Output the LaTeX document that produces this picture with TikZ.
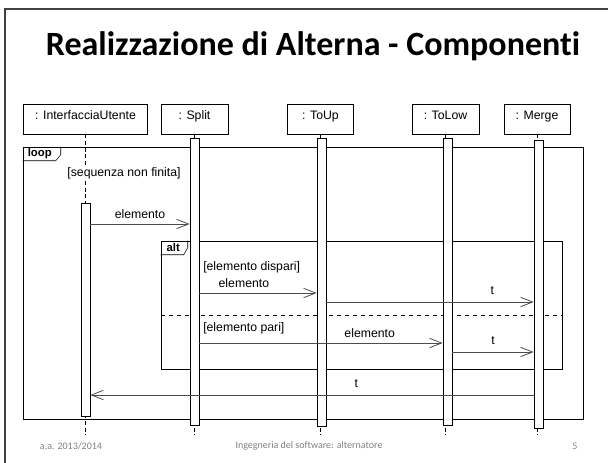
\documentclass[tikz,border=0pt]{standalone}
\usepackage{fontspec}
\setmainfont{Liberation Sans}
\newfontfamily\slidefont[Ligatures=NoCommon]{Carlito}
\usetikzlibrary{arrows.meta}

\begin{document}
\begin{tikzpicture}[x=0.75pt, y=-0.75pt,
    head/.style ={draw, minimum height=22.5pt, inner sep=0pt},
    bar/.style ={draw, fill=white, minimum width=6.75pt, inner sep=0pt},
    lifeline/.style ={dash pattern=on 3pt off 2pt},
    fragment/.style ={draw, minimum width=#1, inner sep=0pt},
    msg/.style ={black!70, line width=0.6pt, -{Straight Barb[length=9pt,width=7pt]}},
    txt/.style ={font=\fontsize{9.2}{11}\selectfont, inner sep=0pt},
    tab/.style ={font=\fontsize{8.5}{10}\selectfont\bfseries, inner sep=0pt},
    foot/.style ={font=\slidefont\fontsize{7.5}{9}\selectfont, text=black!50, inner sep=0pt}]
   \useasboundingbox (0,0) rectangle (608,462);
   \draw[line width=1.6pt, black!75] (4.7,470) -- (4.7,9) -- (615,9);
   \node[font=\slidefont\bfseries\fontsize{25.5}{30}\selectfont, anchor=base] (title) at (313,55) {Realizzazione di Alterna - Componenti};

   \node[head, minimum width=93pt] (iu) at (85.5,119) {};
   \node[head, minimum width=50.25pt] (split) at (194.5,119) {};
   \node[head, minimum width=49.5pt] (toup) at (320.5,119) {};
   \node[head, minimum width=50.25pt] (tolow) at (445.5,119) {};
   \node[head, minimum width=49.5pt] (merge) at (537,119) {};
   \node[txt, anchor=north] at ([yshift=-5pt]iu.north) {: InterfacciaUtente};
   \node[txt, anchor=north] at ([yshift=-5pt]split.north) {: Split};
   \node[txt, anchor=north] at ([yshift=-5pt]toup.north) {: ToUp};
   \node[txt, anchor=north] at ([yshift=-5pt]tolow.north) {: ToLow};
   \node[txt, anchor=north] at ([yshift=-5pt]merge.north) {: Merge};

   \coordinate (bottom) at (0,435);
   \foreach \n in {iu,split,toup,tolow,merge}
      \draw[lifeline] (\n.south) -- (\n.south |- bottom);

   \node[fragment=420pt, minimum height=204pt] (loop) at (303,283) {};
   \draw (loop.north west) ++(0,14) -- ++(33,0) -- ++(5,-6) -- ++(0,-8);
   \node[tab] at ([shift={(17,7)}]loop.north west) {loop};
   \node[txt, fill=white, inner sep=1pt] (guard) at (124,173) {[sequenza non finita]};

   \node[fragment=300.75pt, minimum height=96pt] (alt) at (361.5,305) {};
   \draw (alt.north west) ++(0,14) -- ++(23,0) -- ++(4,-7) -- ++(0,-7);
   \node[tab] at ([shift={(12.5,7)}]alt.north west) {alt};
   \draw[dashed] (161,315) -- (562,315);
   \node[txt, anchor=west] (odd) at (203,267) {[elemento dispari]};
   \node[txt, anchor=west] (even) at (203,328) {[elemento pari]};

   \node[bar, minimum height=159.75pt] (iubar) at (85.5,309.5) {};
   \node[bar, minimum height=215.25pt] (splitbar) at (194.5,281.5) {};
   \node[bar, minimum height=216pt] (toupbar) at (321.5,282) {};
   \node[bar, minimum height=215.25pt] (tolowbar) at (447.5,281.5) {};
   \node[bar, minimum height=216pt] (mergebar) at (538.5,284) {};

   \coordinate (m1) at (0,224);
   \coordinate (m2) at (0,293);
   \coordinate (m3) at (0,302);
   \coordinate (m4) at (0,343);
   \coordinate (m5) at (0,352);
   \coordinate (m6) at (0,395);
   \draw[msg] (iubar.east |- m1) to node[txt, midway, above=4pt, text=black] {elemento} (splitbar.west |- m1);
   \draw[msg] (splitbar.east |- m2) to node[txt, pos=0.38, above=4pt, text=black] {elemento} (toupbar.west |- m2);
   \draw[msg] (toupbar.east |- m3) to node[txt, pos=0.8, above=5pt, text=black] {t} (mergebar.west |- m3);
   \draw[msg] (splitbar.east |- m4) to node[txt, pos=0.7, above=4pt, text=black] {elemento} (tolowbar.west |- m4);
   \draw[msg] (tolowbar.east |- m5) to node[txt, midway, above=5pt, text=black] {t} (mergebar.west |- m5);
   \draw[msg] (mergebar.west |- m6) to node[txt, pos=0.4, above=5pt, text=black] {t} (iubar.east |- m6);

   \node[foot] (date) at (71,446) {a.a. 2013/2014};
   \node[foot] (course) at (309,446) {Ingegneria del software: alternatore};
   \node[foot] (page) at (575,446) {5};
\end{tikzpicture}
\end{document}
